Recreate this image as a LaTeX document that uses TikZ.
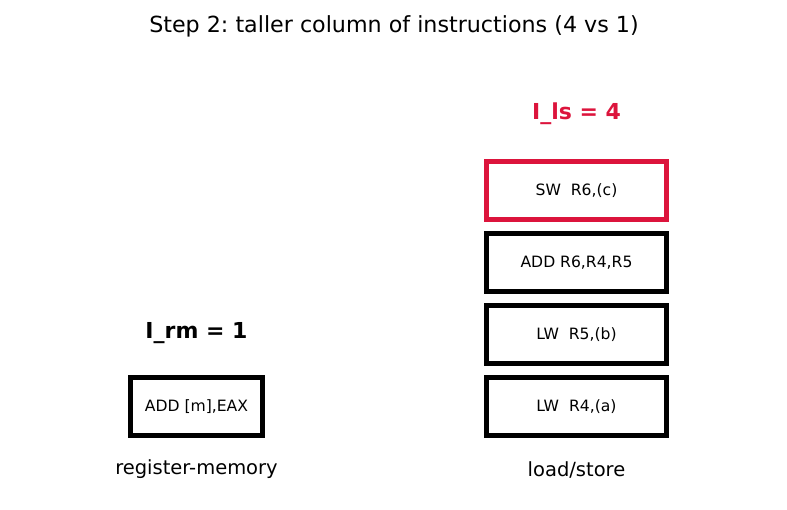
\documentclass[tikz,border=0pt]{standalone}
\usepackage{fontspec}
\setmainfont{DejaVu Sans}
\definecolor{crim}{HTML}{DC143C}
\frenchspacing
\begin{document}
\begin{tikzpicture}[x=1pt,y=-1pt,
  instr/.style={draw=black,line width=4.6pt,minimum width=180pt,minimum height=58pt,inner sep=0pt,font=\fontsize{15.6}{18}\selectfont},
  instrs/.style={instr,minimum width=132pt},
  cnt/.style={font=\fontsize{22}{26}\selectfont\bfseries},
  lbl/.style={font=\fontsize{19.5}{23}\selectfont}]
\useasboundingbox (0,0) rectangle (787,510);
\node[font=\fontsize{22.2}{26}\selectfont] (title) at (394,26) {Step 2: taller column of instructions (4 vs 1)};
% register-memory
\node[instrs] (rm1) at (196.5,406.5) {ADD [m],EAX};
\node[cnt] (crm) at (196.5,333) {I\_rm = 1};
\node[lbl] (lrm) at (196.5,469.5) {register-memory};
% load/store
\node[instr] (ls1) at (576.5,406.5) {LW\ \ R4,(a)};
\node[instr] (ls2) at (576.5,334.5) {LW\ \ R5,(b)};
\node[instr] (ls3) at (576.5,262.5) {ADD R6,R4,R5};
\node[instr,draw=crim] (ls4) at (576.5,190.5) {SW\ \ R6,(c)};
\node[cnt,text=crim] (cls) at (576.5,114) {I\_ls = 4};
\node[lbl] (lls) at (576.5,469.5) {load/store};
\end{tikzpicture}
\end{document}
